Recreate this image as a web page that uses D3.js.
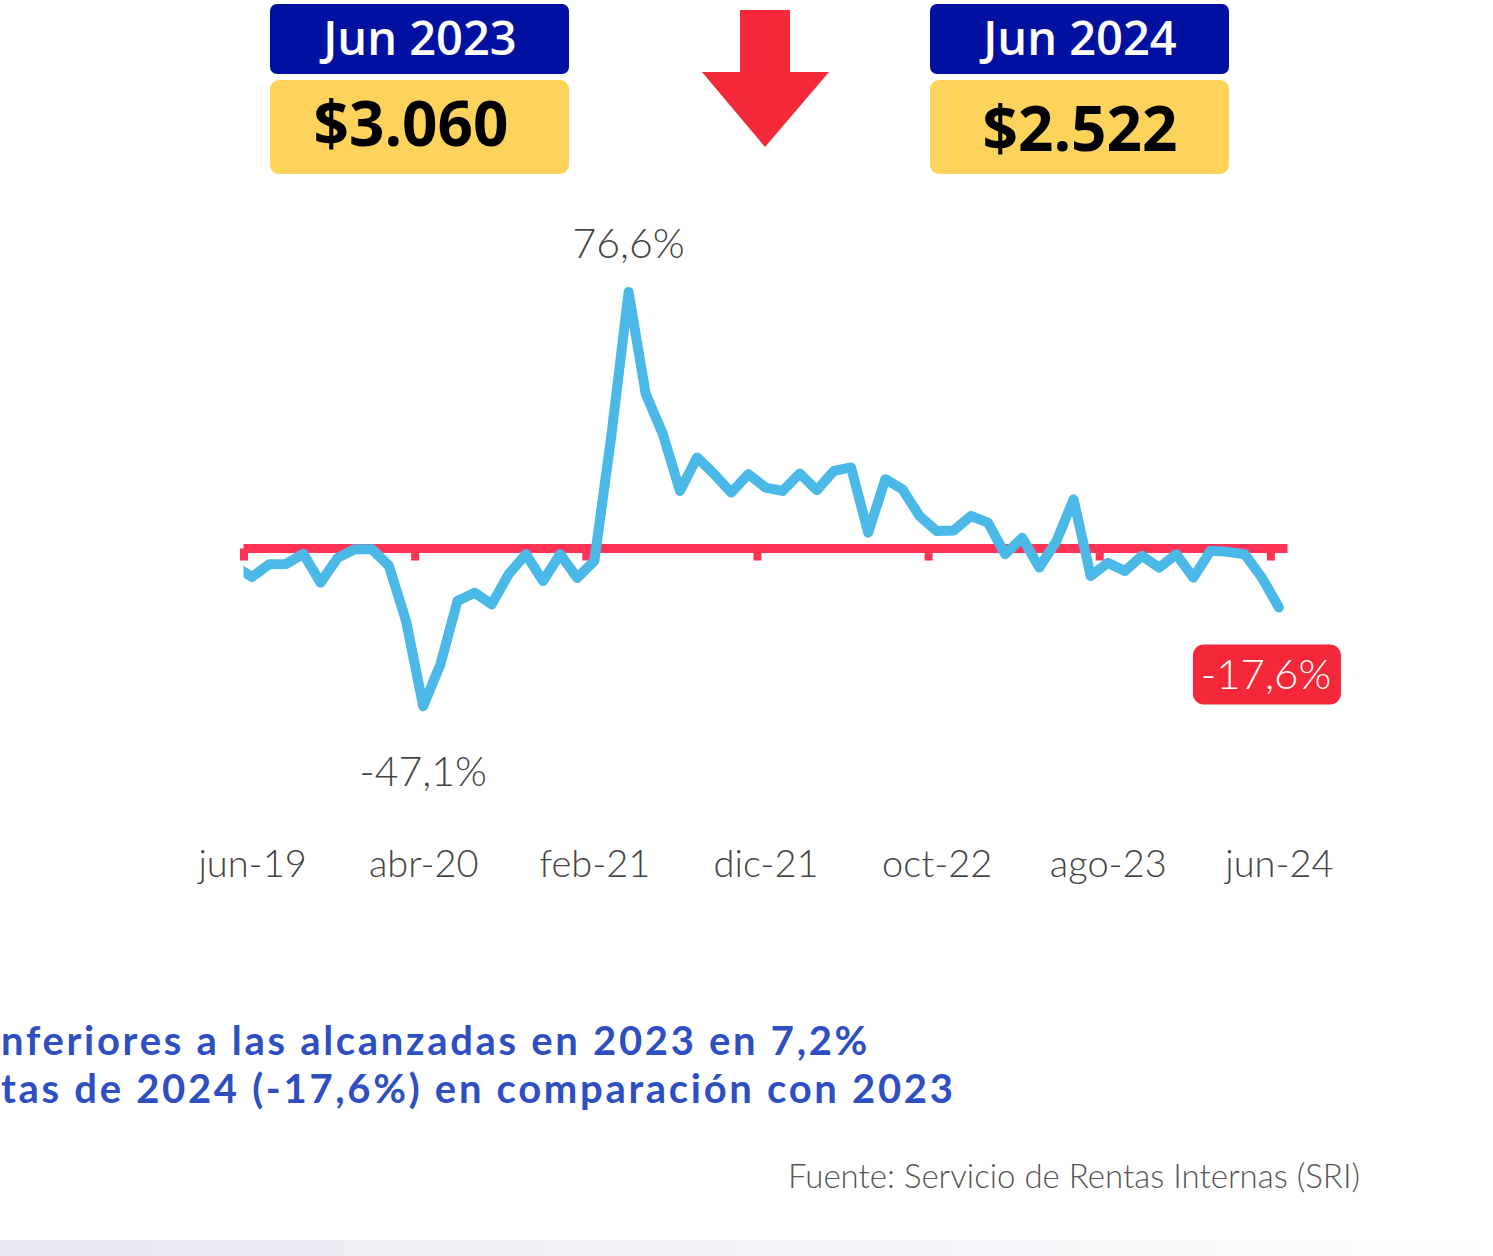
<!DOCTYPE html>
<html lang="es">
<head>
<meta charset="UTF-8">
<title>Variación anual</title>
<script src="https://d3js.org/d3.v7.min.js"></script>
<style>
  html, body { margin: 0; padding: 0; background: #fff; }
  svg { display: block; }
  .thin { font-family: Lato, "Open Sans", sans-serif; font-weight: 300; fill: #444; }
  .bold { font-family: "Open Sans", Lato, sans-serif; }
  .note { font-family: Lato, "Open Sans", sans-serif; font-weight: 700; }
</style>
</head>
<body>
<div id="chart"></div>
<script>
// months from may-19 (only partly visible, clipped at the axis start) to jun-24
const months = [
  "may-19","jun-19","jul-19","ago-19","sep-19","oct-19","nov-19","dic-19",
  "ene-20","feb-20","mar-20","abr-20","may-20","jun-20","jul-20","ago-20","sep-20","oct-20","nov-20","dic-20",
  "ene-21","feb-21","mar-21","abr-21","may-21","jun-21","jul-21","ago-21","sep-21","oct-21","nov-21","dic-21",
  "ene-22","feb-22","mar-22","abr-22","may-22","jun-22","jul-22","ago-22","sep-22","oct-22","nov-22","dic-22",
  "ene-23","feb-23","mar-23","abr-23","may-23","jun-23","jul-23","ago-23","sep-23","oct-23","nov-23","dic-23",
  "ene-24","feb-24","mar-24","abr-24","may-24","jun-24"
];
// year-on-year variation (%)
const variation = [
  -5.3, -8.5, -4.7, -4.6, -1.6, -10.2, -2.8, -0.2, -0.2,
  -5.2, -21.7, -47.1, -34.7, -15.7, -13.2, -16.7, -7.6, -1.7, -9.7, -1.7, -8.8,
  -3.7, 34.0, 76.6, 46.2, 34.2, 17.2, 27.2, 22.2, 16.7, 22.2, 18.2, 17.2,
  22.4, 17.4, 23.2, 24.2, 4.7, 20.7, 17.7, 9.7, 5.2, 5.4, 9.7, 7.7,
  -1.7, 3.2, -5.7, 2.2, 14.7, -8.2, -4.3, -6.7, -2.2, -5.7, -1.7, -8.7,
  -0.7, -1.0, -1.7, -8.7, -17.6
];
const tickLabels = ["jun-19","abr-20","feb-21","dic-21","oct-22","ago-23","jun-24"];
const callouts = [
  {month: "abr-21", text: "76,6%"},
  {month: "abr-20", text: "-47,1%"},
  {month: "jun-24", text: "-17,6%"}
];
const headerPeriods = ["Jun 2023", "Jun 2024"];
const headerValues = ["$3.060", "$2.522"];
const note = [
  "nferiores a las alcanzadas en 2023 en 7,2%",
  "tas de 2024 (-17,6%) en comparación con 2023"
];
const source = "Fuente: Servicio de Rentas Internas (SRI)";

const W = 1493, H = 1256;
const svg = d3.select("#chart").append("svg").attr("width", W).attr("height", H);

// band scale over the months, centred points
const x = d3.scaleBand().domain(months).range([226.4, 1287.5]).paddingInner(0).paddingOuter(0);
const cx = m => x(m) + x.bandwidth() / 2;
const y = d3.scaleLinear().domain([0, 76.6]).range([548.5, 292]);

const defs = svg.append("defs");
defs.append("clipPath").attr("id", "plot")
  .append("rect").attr("x", x("jun-19")).attr("y", 0)
  .attr("width", 1300 - x("jun-19")).attr("height", H);
const grad = defs.append("linearGradient").attr("id", "band");
grad.append("stop").attr("offset", "0%").attr("stop-color", "#e9e9f3");
grad.append("stop").attr("offset", "55%").attr("stop-color", "#f3f3f8");
grad.append("stop").attr("offset", "100%").attr("stop-color", "#fff");

// header boxes
const navy = "#0010a0", yellow = "#fdd35c";
const boxX = [270, 930];
headerPeriods.forEach((p, i) => {
  const g = svg.append("g").attr("transform", `translate(${boxX[i]},0)`);
  g.append("rect").attr("x", 0).attr("y", 4).attr("width", 299).attr("height", 70)
    .attr("rx", 7).attr("fill", navy);
  g.append("rect").attr("x", 0).attr("y", 80).attr("width", 299).attr("height", 94)
    .attr("rx", 9).attr("fill", yellow);
  g.append("text").attr("class", "bold").attr("x", 150).attr("y", 55)
    .attr("text-anchor", "middle").attr("font-size", 47).attr("font-weight", 600)
    .attr("fill", "#fff").text(p);
  g.append("text").attr("class", "bold").attr("x", i === 0 ? 141 : 150).attr("y", i === 0 ? 146 : 151)
    .attr("text-anchor", "middle").attr("font-size", 62).attr("font-weight", 700)
    .attr("fill", "#000").text(headerValues[i]);
});

// down arrow
svg.append("path")
  .attr("d", "M740,10 L790,10 L790,72 L829,72 L765,147 L702,72 L740,72 Z")
  .attr("fill", "#f42838");

// zero line with category ticks
const red = "#ff3355";
const tickAt = tickLabels.map(m => x(m));
svg.append("line")
  .attr("x1", x("jun-19")).attr("x2", x("jun-24") + x.bandwidth())
  .attr("y1", y(0)).attr("y2", y(0))
  .attr("stroke", red).attr("stroke-width", 9);
const tickAxis = svg.append("g").attr("transform", `translate(0,${y(0)})`)
  .call(d3.axisBottom(d3.scaleIdentity()).tickValues(tickAt).tickSize(12).tickFormat(""));
tickAxis.select(".domain").remove();
tickAxis.selectAll(".tick line").attr("stroke", red).attr("stroke-width", 8);

// line
const line = d3.line().x((d, i) => cx(months[i])).y(d => y(d));
svg.append("path").datum(variation)
  .attr("clip-path", "url(#plot)")
  .attr("d", line)
  .attr("fill", "none").attr("stroke", "#4bb9e8").attr("stroke-width", 10)
  .attr("stroke-linejoin", "round").attr("stroke-linecap", "round");

// x labels
const labelAxis = svg.append("g").attr("transform", "translate(0,850)")
  .call(d3.axisBottom(d3.scaleIdentity()).tickValues(tickLabels.map(cx))
    .tickSize(0).tickPadding(0).tickFormat((d, i) => tickLabels[i]));
labelAxis.select(".domain").remove();
labelAxis.selectAll("text").attr("class", "thin").attr("font-size", 38).attr("fill", "#555");

// callouts
const val = m => variation[months.indexOf(m)];
svg.append("text").attr("class", "thin").attr("x", cx(callouts[0].month)).attr("y", y(val(callouts[0].month)) - 34)
  .attr("text-anchor", "middle").attr("font-size", 41).text(callouts[0].text);
svg.append("text").attr("class", "thin").attr("x", cx(callouts[1].month)).attr("y", y(val(callouts[1].month)) + 80)
  .attr("text-anchor", "middle").attr("font-size", 41).text(callouts[1].text);
const c3x = cx(callouts[2].month) - 12, c3y = y(val(callouts[2].month)) + 37;
svg.append("rect").attr("x", c3x - 74).attr("y", c3y).attr("width", 148).attr("height", 60)
  .attr("rx", 11).attr("fill", "#f42838");
svg.append("text").attr("class", "thin").attr("x", c3x - 1).attr("y", c3y + 45)
  .attr("text-anchor", "middle").attr("font-size", 42).attr("font-weight", 400)
  .attr("fill", "#fff").style("fill", "#fff").text(callouts[2].text);

// note text
note.forEach((t, i) => {
  svg.append("text").attr("class", "note").attr("x", 1).attr("y", 1055 + i * 48)
    .attr("font-size", 40).attr("letter-spacing", 2.7)
    .attr("fill", "#2d4fc2").text(t);
});

svg.append("text").attr("class", "thin").attr("x", 1360).attr("y", 1188)
  .attr("text-anchor", "end").attr("font-size", 33).attr("font-weight", 400)
  .style("fill", "#555").text(source);

svg.append("rect").attr("x", 0).attr("y", 1240).attr("width", W).attr("height", 16)
  .attr("fill", "url(#band)");
</script>
</body>
</html>
